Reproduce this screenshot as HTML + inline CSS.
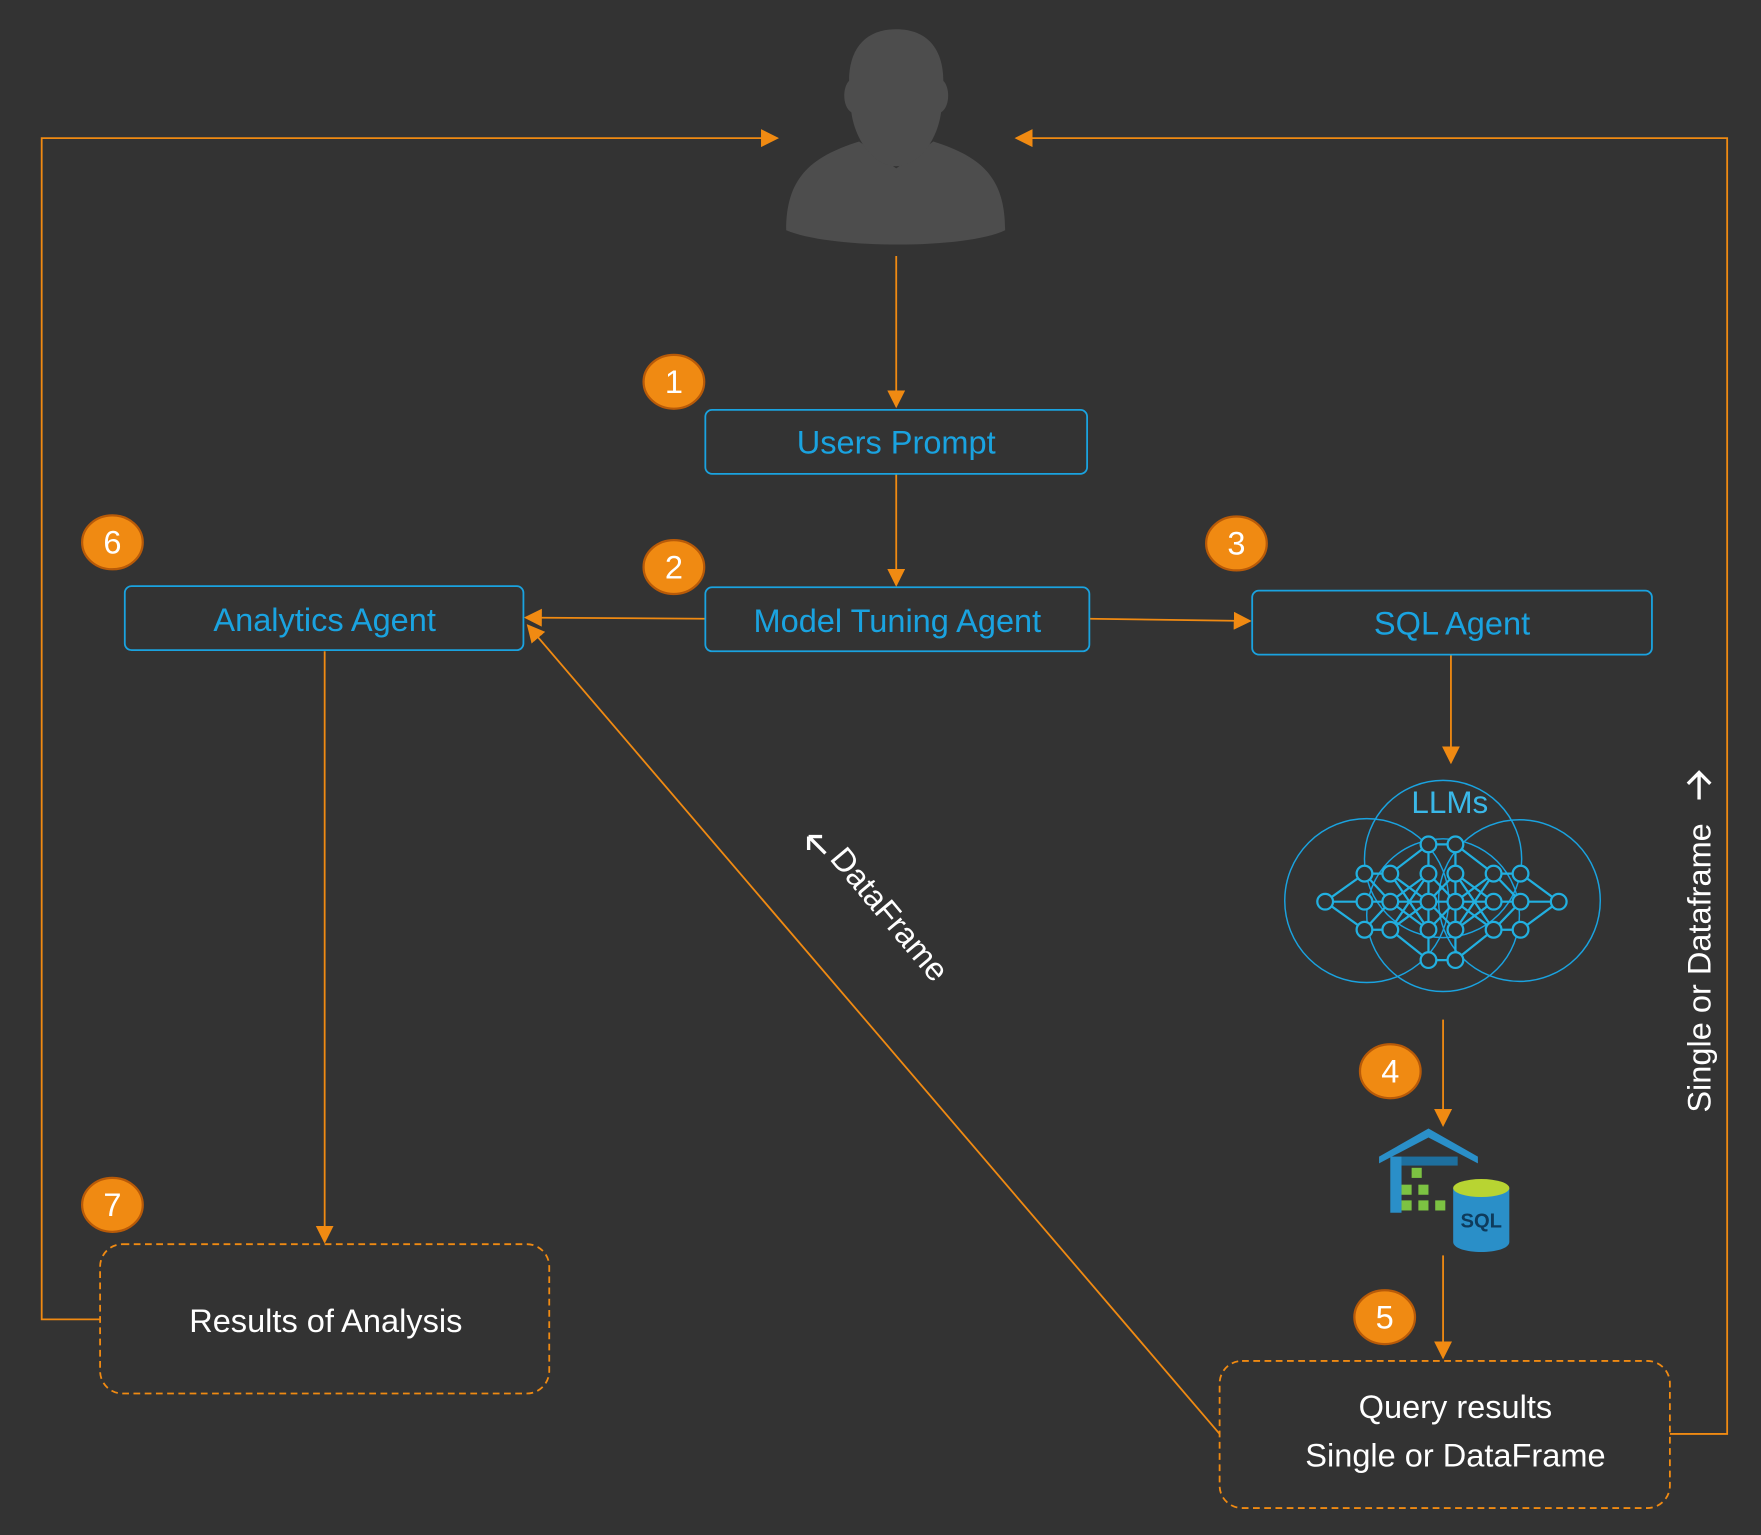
<!DOCTYPE html>
<html><head><meta charset="utf-8"><style>
html,body{margin:0;padding:0;background:#333333;}
svg{display:block;}
text{font-family:"Liberation Sans","DejaVu Sans",sans-serif;}
</style></head><body>
<svg width="1761" height="1535" viewBox="0 0 1568 1367" xmlns="http://www.w3.org/2000/svg">
<defs>
<marker id="arb" viewBox="0 0 10 10" refX="9" refY="5" markerWidth="16" markerHeight="16" markerUnits="userSpaceOnUse" orient="auto">
<path d="M0,0 L10,5 L0,10 z" fill="#f08a12"/></marker>
</defs>
<rect width="1568" height="1367" fill="#333333"/>
<!-- person -->
<g fill="#4d4d4d">
<path d="M700,205 C700,160 720,140 765,126 L798,150 L831,126 C876,140 895,160 895,205 C860,222 740,222 700,205 z"/>
<path d="M798,26 C770,26 756,44 756,72 C750,78 750,95 758,100 C762,128 780,148 798,148 C816,148 834,128 838,100 C846,95 846,78 840,72 C840,44 826,26 798,26 z"/>
</g>
<g stroke="#f08a12" stroke-width="1.6" fill="none">
<path d="M89,1175 L37,1175 L37,123 L692,123" marker-end="url(#arb)"/>
<path d="M1487,1277 L1538,1277 L1538,123 L905,123" marker-end="url(#arb)"/>
<path d="M798,228 L798,362" marker-end="url(#arb)"/>
<path d="M798,422 L798,521" marker-end="url(#arb)"/>
<path d="M628,551 L468,550" marker-end="url(#arb)"/>
<path d="M970,551 L1113,553" marker-end="url(#arb)"/>
<path d="M1292,583 L1292,679" marker-end="url(#arb)"/>
<path d="M1285,908 L1285,1002" marker-end="url(#arb)"/>
<path d="M1285,1118 L1285,1209" marker-end="url(#arb)"/>
<path d="M289,580 L289,1106" marker-end="url(#arb)"/>
<path d="M1086,1277 L470,557" marker-end="url(#arb)"/>
</g>
<g fill="none" stroke="#1aa3e0" stroke-width="1.6">
<rect x="628" y="365" width="340" height="57" rx="6"/>
<rect x="628" y="523" width="342" height="57" rx="6"/>
<rect x="111" y="522" width="355" height="57" rx="6"/>
<rect x="1115" y="526" width="356" height="57" rx="6"/>
</g>
<g fill="#1aa3e0" font-size="29" text-anchor="middle">
<text x="798" y="404">Users Prompt</text>
<text x="799" y="563">Model Tuning Agent</text>
<text x="289" y="562">Analytics Agent</text>
<text x="1293" y="565">SQL Agent</text>
</g>
<g fill="none" stroke="#f08a12" stroke-width="1.6" stroke-dasharray="6,4">
<rect x="89" y="1108" width="400" height="133" rx="20"/>
<rect x="1086" y="1212" width="401" height="131" rx="20"/>
</g>
<g fill="#ffffff" font-size="29" text-anchor="middle">
<text x="290" y="1186">Results of Analysis</text>
<text x="1296" y="1263">Query results</text>
<text x="1296" y="1306">Single or DataFrame</text>
</g>
<text x="0" y="0" fill="#fff" font-size="29" transform="translate(738,765) rotate(50)">DataFrame</text>
<path d="M735,760 L720,745 M720,745 L720,757 M720,745 L732,745" stroke="#fff" stroke-width="3" fill="none"/>
<text x="0" y="0" fill="#fff" font-size="29" text-anchor="middle" transform="translate(1523,862) rotate(-90)">Single or Dataframe</text>
<path d="M1513,712 L1513,688 M1503,698 L1513,688 L1523,698" stroke="#fff" stroke-width="3" fill="none"/>
<g fill="#f08a12" stroke="#b85a08" stroke-width="2">
<ellipse cx="600" cy="340" rx="27" ry="24"/>
<ellipse cx="600" cy="505" rx="27" ry="24"/>
<ellipse cx="1101" cy="484" rx="27" ry="24"/>
<ellipse cx="1238" cy="954" rx="27" ry="24"/>
<ellipse cx="1233" cy="1173" rx="27" ry="24"/>
<ellipse cx="100" cy="483" rx="27" ry="24"/>
<ellipse cx="100" cy="1073" rx="27" ry="24"/>
</g>
<g fill="#fff" font-size="29" text-anchor="middle">
<text x="600" y="350">1</text><text x="600" y="515">2</text><text x="1101" y="494">3</text>
<text x="1238" y="964">4</text><text x="1233" y="1183">5</text><text x="100" y="493">6</text><text x="100" y="1083">7</text>
</g>
<g fill="none" stroke="#1aa3e0" stroke-width="1.3">
<circle cx="1217" cy="802" r="73"/>
<circle cx="1353" cy="802" r="72"/>
<circle cx="1285" cy="765" r="70"/>
<circle cx="1285" cy="815" r="68"/>
</g>
<text x="1291" y="724" fill="#3ab8e8" font-size="28" text-anchor="middle">LLMs</text>
<g stroke="#22b0e0" stroke-width="2" fill="none">
<path d="M1180,803 L1215,778 L1238,778 L1272,752 L1296,752 L1330,778 L1354,778 L1388,803 M1180,803 L1215,828 L1238,828 L1272,855 L1296,855 L1330,828 L1354,828 L1388,803 M1180,803 L1354,803 L1388,803 M1215,778 L1238,803 L1272,778 L1296,803 L1330,778 L1354,803 M1215,828 L1238,803 L1272,828 L1296,803 L1330,828 L1354,803 M1238,778 L1272,803 L1296,778 L1330,803 M1238,828 L1272,803 L1296,828 L1330,803 M1272,752 L1272,855 M1296,752 L1296,855 M1238,778 L1272,828 M1296,778 L1330,828 M1238,828 L1272,778 M1296,828 L1330,778"/>
<g fill="#333">
<circle cx="1180" cy="803" r="7"/><circle cx="1388" cy="803" r="7"/>
<circle cx="1215" cy="778" r="7"/><circle cx="1215" cy="803" r="7"/><circle cx="1215" cy="828" r="7"/>
<circle cx="1238" cy="778" r="7"/><circle cx="1238" cy="803" r="7"/><circle cx="1238" cy="828" r="7"/>
<circle cx="1272" cy="752" r="7"/><circle cx="1272" cy="778" r="7"/><circle cx="1272" cy="803" r="7"/><circle cx="1272" cy="828" r="7"/><circle cx="1272" cy="855" r="7"/>
<circle cx="1296" cy="752" r="7"/><circle cx="1296" cy="778" r="7"/><circle cx="1296" cy="803" r="7"/><circle cx="1296" cy="828" r="7"/><circle cx="1296" cy="855" r="7"/>
<circle cx="1330" cy="778" r="7"/><circle cx="1330" cy="803" r="7"/><circle cx="1330" cy="828" r="7"/>
<circle cx="1354" cy="778" r="7"/><circle cx="1354" cy="803" r="7"/><circle cx="1354" cy="828" r="7"/>
</g></g>
<path d="M1228,1030 L1272,1005 L1316,1030 L1316,1036 L1272,1013 L1228,1036 z" fill="#2a8fc8"/>
<rect x="1238" y="1030" width="10" height="50" fill="#2a8fc8"/>
<rect x="1248" y="1030" width="50" height="8" fill="#1e6f9e"/>
<g fill="#7cc242">
<rect x="1257" y="1040" width="9" height="9"/><rect x="1248" y="1055" width="9" height="9"/><rect x="1263" y="1055" width="9" height="9"/>
<rect x="1248" y="1069" width="9" height="9"/><rect x="1263" y="1069" width="9" height="9"/><rect x="1278" y="1069" width="9" height="9"/>
</g>
<path d="M1294,1058 L1294,1106 C1294,1118 1344,1118 1344,1106 L1344,1058 z" fill="#2a8fc8"/>
<ellipse cx="1319" cy="1058" rx="25" ry="8" fill="#b8d432"/>
<text x="1319" y="1093" fill="#0e3b5c" font-size="18" font-weight="bold" text-anchor="middle">SQL</text>
</svg>
</body></html>
